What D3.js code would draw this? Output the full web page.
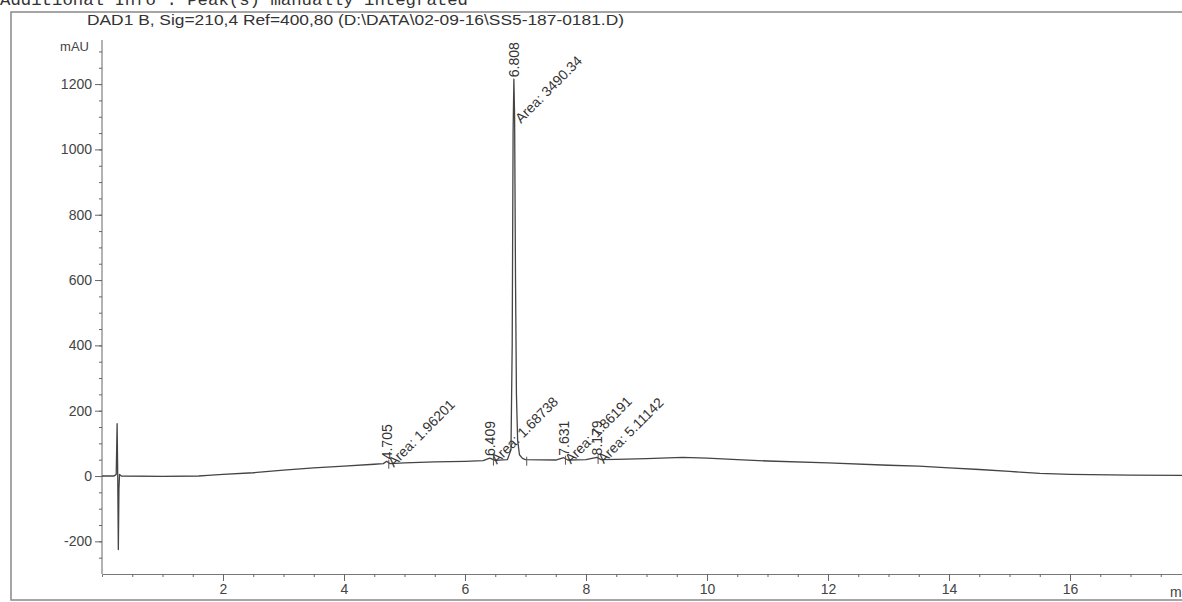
<!DOCTYPE html>
<html>
<head>
<meta charset="utf-8">
<script src="https://cdn.jsdelivr.net/npm/d3@7"></script>
<style>
  body { margin: 0; background: #fff; }
  svg { display: block; }
</style>
</head>
<body>
<div id="vis-container"></div>
<script>
/* CHROMATOGRAM */

const headerText = "Additional Info : Peak(s) manually integrated";
const titleText = "DAD1 B, Sig=210,4 Ref=400,80 (D:\\DATA\\02-09-16\\SS5-187-0181.D)";

// trace (min, mAU)
const traceTime = [0, 0.2, 0.235, 0.25, 0.26, 0.27, 0.28, 0.29, 0.32, 1.0, 1.6, 1.75, 2.0, 2.5, 3.0, 3.5, 4.0, 4.5, 4.65,
  4.705, 4.76, 5.0, 5.5, 6.0, 6.3, 6.409, 6.5, 6.7, 6.76, 6.78, 6.795, 6.808, 6.82, 6.835, 6.85, 6.87, 6.9, 6.95,
  7.0, 7.5, 7.631, 7.7, 8.0, 8.179, 8.25, 8.5, 9.0, 9.6, 10.0, 10.5, 11.0, 12.0, 13.0, 13.5, 14.0, 14.5, 15.0,
  15.5, 16.0, 17.0, 18.0];
const traceValue = [0, 0, 5, 160, 0, -225, -40, 5, 0, -1, 0, 2, 5, 10, 18, 25, 30, 36, 38,
  45, 38, 40, 43, 45, 47, 55, 48, 50, 80, 400, 1050, 1215, 1100, 600, 250, 110, 65, 54,
  50, 49, 56, 49, 50, 57, 50, 51, 53, 57, 55, 50, 46, 40, 33, 30, 25, 20, 14,
  8, 5, 3, 2];

// integrated peaks
const peakRT = ["4.705", "6.409", "6.808", "7.631", "8.179"];
const peakTime = [4.705, 6.409, 6.808, 7.631, 8.179];
const peakHeight = [45, 55, 1215, 56, 57];
const peakArea = ["1.96201", "1.68738", "3490.34", "1.86191", "5.11142"];
const markerTime = [4.74, 6.47, 7.02, 7.66, 8.2];

const yTicks = [-200, 0, 200, 400, 600, 800, 1000, 1200];
const xTicks = [2, 4, 6, 8, 10, 12, 14, 16];

const width = 1182, height = 602;
const x = d3.scaleLinear().domain([0, 18]).range([102, 1191]);
const y = d3.scaleLinear().domain([-300, 1335]).range([574, 40]);

const svg = d3.select('#vis-container')
  .append('svg')
  .attr('width', width)
  .attr('height', height)
  .style('font-family', 'Liberation Sans, Arial, sans-serif');

svg.append("text")
  .attr("x", 0).attr("y", 5)
  .attr("font-family", "Liberation Mono, Courier New, monospace")
  .attr("font-size", 17)
  .attr("textLength", 468).attr("lengthAdjust", "spacingAndGlyphs")
  .attr("fill", "#333")
  .text(headerText);

// outer frame
svg.append("rect")
  .attr("x", 11).attr("y", 12)
  .attr("width", 1200).attr("height", 588)
  .attr("fill", "none").attr("stroke", "#888").attr("stroke-width", 1.5);

svg.append("text")
  .attr("x", 87).attr("y", 25)
  .attr("font-size", 14)
  .attr("textLength", 537).attr("lengthAdjust", "spacingAndGlyphs")
  .attr("fill", "#333")
  .text(titleText);

// y axis
let yAxis = svg.append("g").attr("transform", "translate(102,0)");
yAxis.call(d3.axisLeft(y).tickValues(d3.range(-250, 1301, 50)).tickSize(3).tickFormat(""));
yAxis.call(g => g.selectAll(".domain").remove());
let yMajor = svg.append("g").attr("transform", "translate(102,0)")
  .call(d3.axisLeft(y).tickValues(yTicks).tickSize(7).tickPadding(3).tickFormat(d => String(d)));
yMajor.select(".domain").attr("d", `M0,${y(-300)}V40`);
svg.selectAll(".tick line").attr("stroke", "#666");
yMajor.selectAll("text").attr("font-size", 14).attr("fill", "#444");
yMajor.select(".domain").attr("stroke", "#666");

svg.append("text")
  .attr("x", 89).attr("y", 51)
  .attr("text-anchor", "end")
  .attr("font-size", 13)
  .attr("fill", "#444")
  .text("mAU");

// x axis
let xMinor = svg.append("g").attr("transform", `translate(0,${y(-300)})`)
  .call(d3.axisBottom(x).tickValues(d3.range(0.5, 18, 0.5)).tickSize(3).tickFormat(""));
xMinor.select(".domain").attr("stroke", "#777");
let xMajor = svg.append("g").attr("transform", `translate(0,${y(-300)})`)
  .call(d3.axisBottom(x).tickValues(xTicks).tickSize(7).tickPadding(3));
xMajor.select(".domain").remove();
svg.selectAll(".tick line").attr("stroke", "#666");
xMajor.selectAll("text").attr("font-size", 14).attr("fill", "#444");

svg.append("text")
  .attr("x", 1170).attr("y", 597)
  .attr("font-size", 14)
  .attr("fill", "#444")
  .text("min");

// signal
let line = d3.line()
  .x(d => x(d[0]))
  .y(d => y(d[1]));

svg.append("path")
  .datum(d3.zip(traceTime, traceValue))
  .attr("fill", "none")
  .attr("stroke", "#444")
  .attr("stroke-width", 1.3)
  .attr("stroke-linejoin", "round")
  .attr("d", line);

// integration markers
let valueAt = t => {
  let i = d3.bisectLeft(traceTime, t);
  let t0 = traceTime[i - 1], t1 = traceTime[i];
  return traceValue[i - 1] + (traceValue[i] - traceValue[i - 1]) * (t - t0) / (t1 - t0);
};
svg.append("g").selectAll("line")
  .data(markerTime)
  .join("line")
  .attr("x1", d => x(d)).attr("x2", d => x(d))
  .attr("y1", d => y(valueAt(d)) - 3)
  .attr("y2", d => y(valueAt(d)) + 6)
  .attr("stroke", "#555");

// peak labels
let labels = svg.append("g").attr("font-size", 14).attr("fill", "#333");
peakTime.forEach((t, i) => {
  let px = x(t), py = y(peakHeight[i]);
  labels.append("text")
    .attr("transform", `translate(${px + 5},${py - 2}) rotate(-90)`)
    .text(peakRT[i]);
  let ay = y(peakHeight[i] * 0.9) + 5;
  labels.append("text")
    .attr("transform", `translate(${px + 7},${ay}) rotate(-45)`)
    .text("Area: " + peakArea[i]);
});
</script>
</body>
</html>
